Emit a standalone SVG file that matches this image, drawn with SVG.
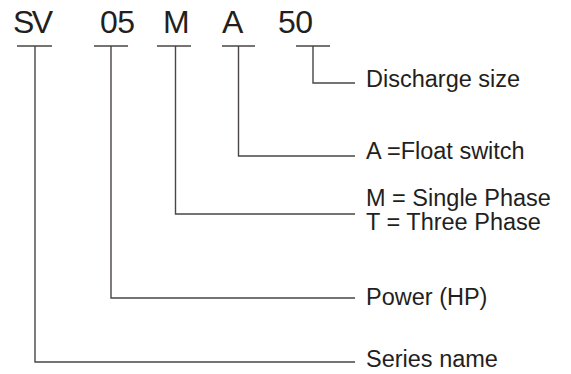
<svg xmlns="http://www.w3.org/2000/svg" width="571" height="374" viewBox="0 0 571 374">
<style>
.code{font-family:"Liberation Sans",Arial,sans-serif;font-size:32px;fill:#231f20}
.lbl{font-family:"Liberation Sans",Arial,sans-serif;font-size:23.5px;fill:#231f20}
.ln{stroke:#4a4546;stroke-width:1.4;fill:none}
</style>
<rect width="571" height="374" fill="#fff"/>
<g id="code-SV"><text class="code" x="13" y="33" textLength="40">SV</text></g>
<g id="code-05"><text class="code" x="100" y="33" textLength="35">05</text></g>
<g id="code-M"><text class="code" x="163" y="33">M</text></g>
<g id="code-A"><text class="code" x="222" y="33">A</text></g>
<g id="code-50"><text class="code" x="278" y="33" textLength="35">50</text></g>
<g id="label-discharge"><text class="lbl" x="366" y="87">Discharge size</text></g>
<g id="label-float"><text class="lbl" x="366" y="159">A =Float switch</text></g>
<g id="label-phase"><text class="lbl" x="366" y="206">M = Single Phase</text><text class="lbl" x="366" y="230">T = Three Phase</text></g>
<g id="label-power"><text class="lbl" x="366" y="305">Power (HP)</text></g>
<g id="label-series"><text class="lbl" x="366" y="367">Series name</text></g>
<g id="connectors">
<path class="ln" d="M17 46H52M35 46V362H355"/>
<path class="ln" d="M94 46H128M111 46V298H355"/>
<path class="ln" d="M157 46H191M175.5 46V214H355"/>
<path class="ln" d="M222 46H255M238.5 46V156H355"/>
<path class="ln" d="M296 46H330M313 46V83H355"/>
</g>
</svg>
